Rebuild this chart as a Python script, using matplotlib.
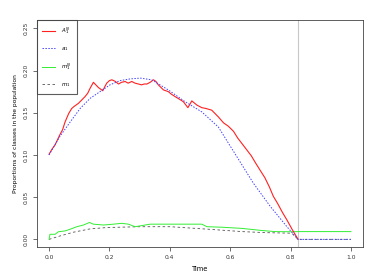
import matplotlib
matplotlib.use("Agg")
import matplotlib.pyplot as plt

# Red: A_1^N
t_red = [0, 0.01, 0.02, 0.036, 0.045, 0.053, 0.065, 0.075, 0.085, 0.097, 0.108, 0.119, 0.128,
         0.136, 0.147, 0.155, 0.163, 0.178, 0.185, 0.191, 0.2, 0.208, 0.22, 0.23, 0.24, 0.252,
         0.262, 0.274, 0.285, 0.296, 0.307, 0.315, 0.324, 0.335, 0.346, 0.354, 0.362, 0.379,
         0.395, 0.405, 0.418, 0.432, 0.445, 0.46, 0.473, 0.49, 0.506, 0.52, 0.539, 0.55, 0.561,
         0.578, 0.594, 0.611, 0.625, 0.64, 0.655, 0.67, 0.685, 0.699, 0.715, 0.73, 0.743, 0.758,
         0.773, 0.788, 0.805, 0.815, 0.825]
v_red = [0.1008, 0.107, 0.112, 0.124, 0.13, 0.139, 0.149, 0.155, 0.158, 0.161, 0.165, 0.169,
         0.173, 0.179, 0.186, 0.183, 0.180, 0.176, 0.181, 0.185, 0.188, 0.189, 0.187, 0.184,
         0.186, 0.187, 0.185, 0.187, 0.185, 0.184, 0.183, 0.184, 0.184, 0.186, 0.189, 0.187,
         0.183, 0.177, 0.175, 0.172, 0.169, 0.166, 0.163, 0.156, 0.164, 0.159, 0.156, 0.155,
         0.153, 0.149, 0.145, 0.138, 0.134, 0.128, 0.12, 0.113, 0.106, 0.099, 0.09, 0.082,
         0.073, 0.062, 0.051, 0.042, 0.032, 0.023, 0.012, 0.006, 0.0]

# Blue dotted: a_1
t_blue = [0, 0.036, 0.07, 0.103, 0.136, 0.169, 0.202, 0.235, 0.268, 0.302, 0.34, 0.395, 0.451,
          0.506, 0.561, 0.622, 0.677, 0.733, 0.788, 0.825, 1.0]
v_blue = [0.1, 0.122, 0.139, 0.155, 0.167, 0.175, 0.183, 0.188, 0.19, 0.191, 0.189, 0.177,
          0.163, 0.151, 0.133, 0.098, 0.0665, 0.039, 0.015, 0.0, 0.0]

# Green: m_1^N
t_green = [0, 0.003, 0.02, 0.031, 0.053, 0.07, 0.092, 0.114, 0.134, 0.147, 0.18, 0.213, 0.241,
           0.263, 0.285, 0.302, 0.335, 0.401, 0.506, 0.523, 0.572, 0.639, 0.705, 0.749, 0.804,
           0.825, 1.0]
v_green = [0, 0.006, 0.006, 0.009, 0.010, 0.012, 0.015, 0.017, 0.020, 0.018, 0.017, 0.018, 0.019,
           0.018, 0.015, 0.016, 0.018, 0.018, 0.018, 0.015, 0.0144, 0.013, 0.0105, 0.0092,
           0.009, 0.0092, 0.0092]

# Gray dashed: m_1
t_gray = [0, 0.036, 0.081, 0.136, 0.191, 0.302, 0.401, 0.528, 0.639, 0.714, 0.804, 0.825, 1.0]
v_gray = [0, 0.004, 0.0085, 0.0124, 0.014, 0.015, 0.015, 0.012, 0.0092, 0.008, 0.0073, 0.0, 0.0]

t_stop = 0.826
x_ticks = [0.0, 0.2, 0.4, 0.6, 0.8, 1.0]
y_ticks = [0.00, 0.05, 0.10, 0.15, 0.20, 0.25]
labels = ["$A_1^N$", "$a_1$", "$m_1^N$", "$m_1$"]

fig = plt.figure(figsize=(3.82, 2.73), dpi=100)
ax = fig.add_axes([0.096, 0.0963, 0.855, 0.8304])

ax.axvline(t_stop, color="#c8c8c8", lw=0.8, zorder=1)
ax.plot(t_gray, v_gray, color="#555555", lw=0.6, ls=(0, (3, 3)), label=labels[3], zorder=2)
ax.plot(t_green, v_green, color="#33ee33", lw=0.7, label=labels[2], zorder=3)
ax.plot(t_red, v_red, color="#ff2020", lw=0.8, label=labels[0], zorder=4)
ax.plot(t_blue, v_blue, color="#4444ff", lw=0.7, ls=(0, (1.5, 1.5)), label=labels[1], zorder=5)

ax.set_xlim(-0.041, 1.041)
ax.set_ylim(-0.0087, 0.2598)
ax.set_xticks(x_ticks)
ax.set_xticklabels([f"{x:.1f}" for x in x_ticks])
ax.set_yticks(y_ticks)
ax.set_yticklabels([f"{y:.2f}" for y in y_ticks], rotation=90, va="center")
ax.tick_params(labelsize=4.3, length=3, width=0.5, pad=3, colors="#333333")
for s in ax.spines.values():
    s.set_linewidth(0.6)
    s.set_color("#444444")

ax.set_xlabel("Time", fontsize=4.8, labelpad=4)
ax.set_ylabel("Proportions of classes in the population", fontsize=4.3, labelpad=4)

h, l = ax.get_legend_handles_labels()
order = [l.index(x) for x in labels]
leg = ax.legend([h[i] for i in order], [l[i] for i in order], loc="upper left",
                fontsize=4.0, frameon=True, fancybox=False, edgecolor="#333333",
                borderaxespad=0, handlelength=2.3, labelspacing=1.55, borderpad=1.0,
                handletextpad=1.0)
leg.get_frame().set_linewidth(0.8)

fig.savefig("out.png", dpi=100)
